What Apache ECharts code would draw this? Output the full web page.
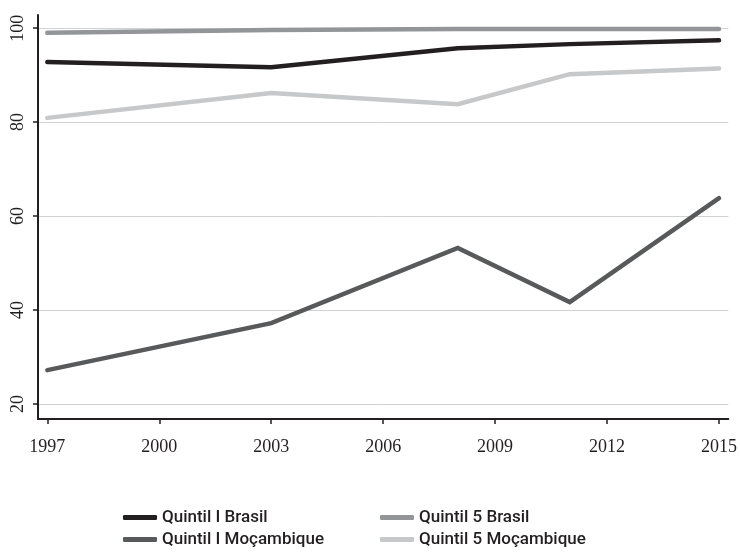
<!DOCTYPE html>
<html><head><meta charset="utf-8">
<script src="https://cdn.jsdelivr.net/npm/echarts@6/dist/echarts.min.js"></script>
<style>html,body{margin:0;padding:0;background:#fff}#c{width:740px;height:560px}</style>
</head><body><div id="c"></div>
<script>
var years = [1997, 2003, 2008, 2011, 2015];
var xTicks = [1997, 2000, 2003, 2006, 2009, 2012, 2015];
var yTicks = [20, 40, 60, 80, 100];
var seriesNames = ['Quintil I Brasil', 'Quintil I Moçambique', 'Quintil 5 Brasil', 'Quintil 5 Moçambique'];
var q1Brasil = [92.8, 91.7, 95.7, 96.6, 97.4];
var q1Mocambique = [27.2, 37.2, 53.2, 41.7, 63.8];
var q5Brasil = [99.0, 99.6, 99.8, 99.8, 99.8];
var q5Mocambique = [80.9, 86.2, 83.8, 90.2, 91.4];
var colors = ['#231f20', '#58595b', '#939598', '#c7c8ca'];

function pairs(vals){ return years.map(function(y,i){ return [y, vals[i]]; }); }
var allVals = [q1Brasil, q1Mocambique, q5Brasil, q5Mocambique];

var chart = echarts.init(document.getElementById('c'));
var legendFont = {fontFamily: 'Roboto, sans-serif', fontWeight: 500, fontSize: 17, color: '#231f20', lineHeight: 16};
var tickFont = 'Liberation Serif, DejaVu Serif, serif';
chart.setOption({
  animation: false,
  grid: {left: 38, right: 7, top: 15, bottom: 141, containLabel: false},
  legend: [
    {data: [seriesNames[0], seriesNames[1]], orient: 'vertical', left: 118, top: 504, itemWidth: 34, itemHeight: 5, itemGap: 5, itemTextGap: 14, icon: 'roundRect', textStyle: legendFont},
    {data: [seriesNames[2], seriesNames[3]], orient: 'vertical', left: 375, top: 504, itemWidth: 34, itemHeight: 5, itemGap: 5, itemTextGap: 14, icon: 'roundRect', textStyle: legendFont}
  ],
  xAxis: {
    type: 'value', min: 1996.75, max: 2015.25,
    axisLine: {show: true, lineStyle: {color: '#231f20', width: 2}},
    axisTick: {show: true, customValues: xTicks, length: 5, lineStyle: {color: '#231f20', width: 1.5}},
    axisLabel: {customValues: xTicks, margin: 19, fontFamily: tickFont, fontSize: 18, color: '#231f20', formatter: function(v){ return String(v); }},
    splitLine: {show: false}
  },
  yAxis: {
    type: 'value', min: 16.8, max: 102.8,
    axisLine: {show: true, lineStyle: {color: '#231f20', width: 2}},
    axisTick: {show: true, customValues: yTicks, length: 5, lineStyle: {color: '#231f20', width: 1.5}},
    axisLabel: {customValues: yTicks, rotate: 90, margin: 11, fontFamily: tickFont, fontSize: 18, color: '#231f20'},
    splitLine: {show: true, customValues: yTicks, lineStyle: {color: '#d1d2d4', width: 1}}
  },
  series: seriesNames.map(function(n, i){
    return {name: n, type: 'line', data: pairs(allVals[i]), symbol: 'none', color: colors[i],
      lineStyle: {width: 4.5, color: colors[i], cap: 'round', join: 'miter'}, z: [3,2,1,1][i]};
  })
});
</script></body></html>
